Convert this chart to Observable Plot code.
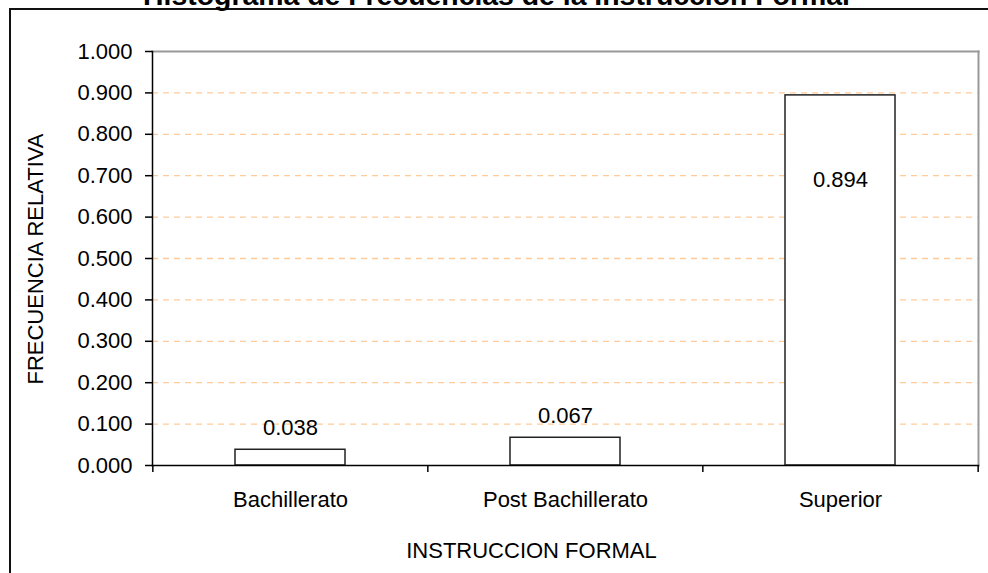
<!DOCTYPE html>
<html>
<head>
<meta charset="utf-8">
<script src="https://cdn.jsdelivr.net/npm/d3@7"></script>
<script src="https://cdn.jsdelivr.net/npm/@observablehq/plot@0.6"></script>
<style>
  html, body { margin: 0; padding: 0; background: #fff; overflow: hidden; }
  #wrap { position: relative; width: 988px; height: 573px; overflow: hidden;
          font-family: 'Liberation Sans', Arial, sans-serif; }
  #outer { position: absolute; left: 9px; top: 8px; width: 2000px; height: 2000px;
           border-left: 2px solid #111; border-top: 2px solid #111; }
  #chart { position: absolute; left: 0; top: 0; }
  #chart svg { overflow: visible; }
  #ytitle { position: absolute; left: -164px; top: 248px; width: 400px; height: 22px;
            line-height: 22px; font-size: 22px; text-align: center; color: #000;
            transform: rotate(-90deg); transform-origin: 50% 50%; white-space: nowrap; }
</style>
</head>
<body>
<div id="wrap">
  <div id="outer"></div>
  <div id="chart"></div>
  <div id="ytitle"></div>
</div>
<script>
const title = "Histograma de Frecuencias de la Instrucción Formal";
const xTitle = "INSTRUCCION FORMAL";
const yTitle = "FRECUENCIA RELATIVA";
const categories = ["Bachillerato", "Post Bachillerato", "Superior"];
const values = [0.038, 0.067, 0.894];
const yTicks = [0, 0.1, 0.2, 0.3, 0.4, 0.5, 0.6, 0.7, 0.8, 0.9, 1.0];
const gridTicks = [0.1, 0.2, 0.3, 0.4, 0.5, 0.6, 0.7, 0.8, 0.9];

const data = categories.map((c, i) => ({cat: c, value: values[i]}));
const W = 988, H = 573, mL = 152, mR = 10, mT = 51, mB = 108;
const step = (W - mL - mR) / categories.length;
const fmt = d3.format(".3f");
const FS = 22;

document.getElementById("ytitle").textContent = yTitle;

const chart = Plot.plot({
  width: W, height: H,
  marginTop: mT, marginLeft: mL, marginRight: mR, marginBottom: mB,
  style: {fontFamily: "'Liberation Sans', Arial, sans-serif", fontSize: FS + "px", color: "#000", background: "transparent"},
  x: {domain: categories, paddingInner: 0.6, paddingOuter: 0.3, axis: null},
  y: {domain: [0, 1], axis: null},
  marks: [
    Plot.ruleY(gridTicks, {stroke: "#FFCC99", strokeWidth: 1.3, strokeDasharray: "6,5"}),
    Plot.frame({anchor: "top", stroke: "#999", strokeWidth: 2}),
    Plot.frame({anchor: "right", stroke: "#999", strokeWidth: 2}),
    Plot.axisY({ticks: yTicks, tickFormat: fmt, tickSize: 7, tickPadding: 13, label: null, fontSize: FS, stroke: "#000", strokeWidth: 1.5}),
    Plot.axisX({tickSize: 0, tickPadding: 26, label: null, fontSize: FS}),
    Plot.ruleX(categories, {x: d => d, dx: -step / 2, y1: 0, y2: -0.017, stroke: "#000", strokeWidth: 1.5}),
    Plot.ruleX(categories.slice(-1), {x: d => d, dx: step / 2, y1: 0, y2: -0.017, stroke: "#000", strokeWidth: 1.5}),
    Plot.barY(data, {x: "cat", y: "value", fill: "white", stroke: "#222", strokeWidth: 1.5}),
    Plot.frame({anchor: "left", stroke: "#000", strokeWidth: 1.5}),
    Plot.frame({anchor: "bottom", stroke: "#000", strokeWidth: 1.5}),
    Plot.text(data.filter(d => d.value < 0.5), {x: "cat", y: "value", text: d => fmt(d.value), lineAnchor: "bottom", dy: -15, fontSize: FS}),
    Plot.text(data.filter(d => d.value >= 0.5), {x: "cat", y: "value", text: d => fmt(d.value), lineAnchor: "bottom", dy: 92, fontSize: FS}),
    Plot.text([xTitle], {frameAnchor: "bottom", lineAnchor: "bottom", dx: -34, dy: 92, fontSize: FS}),
    Plot.text([title], {frameAnchor: "top", lineAnchor: "bottom", dx: -69, dy: -47, fontSize: 28.4, fontWeight: "bold"})
  ]
});
document.getElementById("chart").appendChild(chart);
</script>
</body>
</html>
